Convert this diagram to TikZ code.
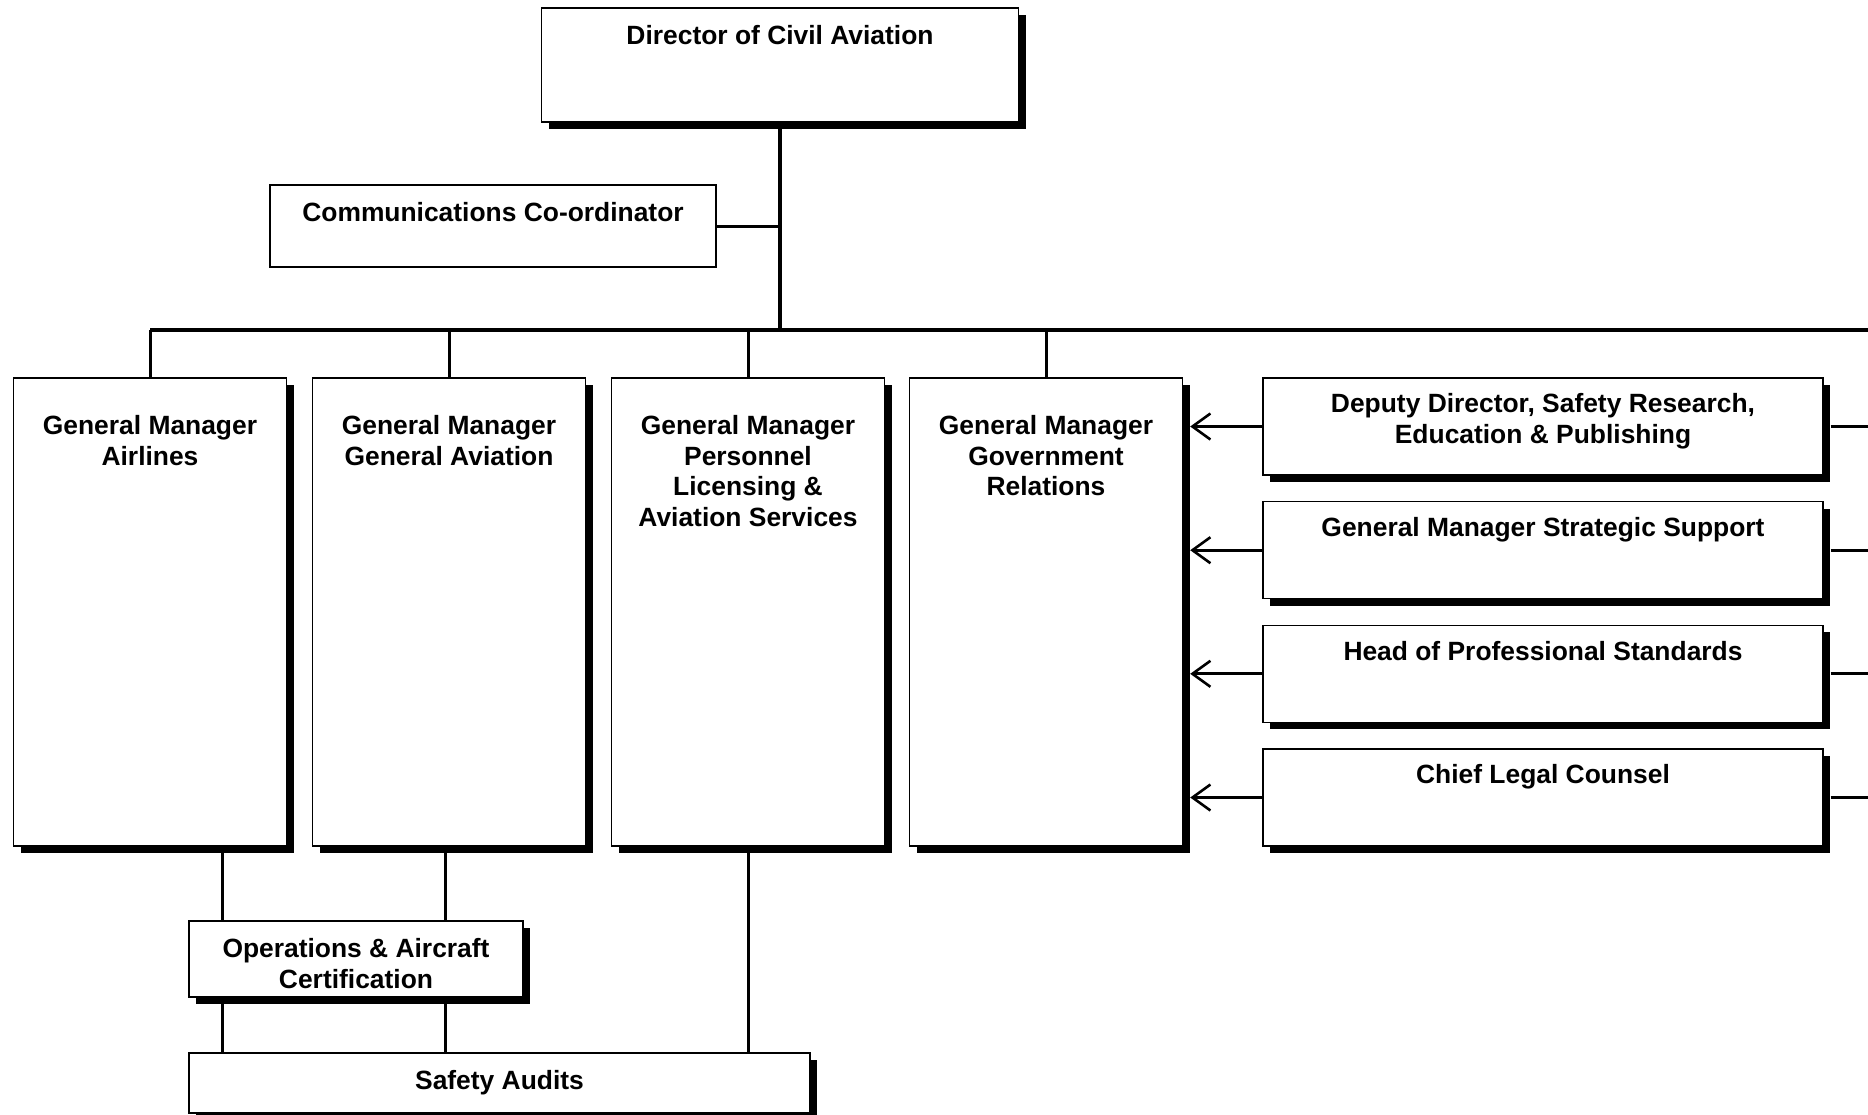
\documentclass[tikz,border=0pt]{standalone}
\usepackage{fontspec}
\setmainfont{Liberation Sans}
\usetikzlibrary{positioning,shadows,arrows.meta}

\tikzset{
  frame/.style={draw=black, line width=0.7pt, fill=white},
  box/.style={frame,
    general shadow={fill=black, shadow xshift=3.5pt, shadow yshift=-3.5pt}},
  txt/.style={font=\bfseries\fontsize{13.2}{15.2}\selectfont, align=center, inner sep=0pt},
  link/.style={line width=1.5pt},
  trunk/.style={line width=2pt},
  barb/.style={-{Straight Barb[length=9pt,width=13pt,line width=1.3pt]}, shorten >=3.5pt}
}

\begin{document}
\begin{tikzpicture}[x=0.5pt, y=-0.5pt]
  \useasboundingbox (0,0) rectangle (1868,1114);

  % Top of the chart
  \node[box, minimum width=238.5pt, minimum height=57pt] (dca) at (780,65) {};
  \node[txt, below=9pt of dca.north] (dcat) {Director of Civil Aviation};
  \node[frame, minimum width=223pt, minimum height=41pt] (comm) at (493,226) {};
  \node[txt, below=8.6pt of comm.north] (commt) {Communications Co-ordinator};

  \coordinate (bus) at (780,330);
  \coordinate (edge) at (1868,330);

  % General managers
  \foreach \n/\x/\t in {air/150/{General Manager\\Airlines},
                        ga/449/{General Manager\\General Aviation},
                        pl/748/{General Manager\\Personnel\\Licensing \&\\Aviation Services},
                        gov/1046/{General Manager\\Government\\Relations}} {
    \node[box, minimum width=136.5pt, minimum height=234pt] (\n) at (\x,612) {};
    \node[txt, below=19pt of \n.north] (\n t) {\t};
  }

  % Staff boxes on the right
  \foreach \n/\y/\t in {dep/426.5/{Deputy Director, Safety Research,\\Education \& Publishing},
                        strat/550.2/{General Manager Strategic Support},
                        prof/673.8/{Head of Professional Standards},
                        legal/797.5/{Chief Legal Counsel}} {
    \node[box, minimum width=280pt, minimum height=48.5pt] (\n) at (1543,\y) {};
    \node[txt, below=8pt of \n.north] (\n t) {\t};
  }

  % Bottom boxes
  \node[box, minimum width=167pt, minimum height=38pt] (ops) at (356,959) {};
  \node[txt, below=9pt of ops.north] (opst) {Operations \& Aircraft\\Certification};
  \node[box, txt, inner sep=2pt, minimum width=310.5pt, minimum height=30pt] (sa) at (499.5,1083)
    {Safety Audits};

  \coordinate (ca) at (222,900);
  \coordinate (cb) at (445.5,900);

  % Lines
  \draw[trunk] (dca.south) -- (bus);
  \draw[link] (comm.east) -- (comm.east -| dca.south);
  \draw[trunk] (air.north |- bus) -- (edge);
  \foreach \n in {air,ga,pl,gov}
    \draw[link] (\n.north) -- (\n.north |- bus);
  \foreach \n in {dep,strat,prof,legal} {
    \draw[link, barb] (\n.west) -- (\n.west -| gov.east);
    \draw[link] ([xshift=3.5pt]\n.east) -- (\n.east -| edge);
  }
  \draw[link] (air.south -| ca) -- (ops.north -| ca);
  \draw[link] (ga.south -| cb) -- (ops.north -| cb);
  \draw[link] (ops.south -| ca) -- (sa.north -| ca);
  \draw[link] (ops.south -| cb) -- (sa.north -| cb);
  \draw[link] (pl.south) -- (pl.south |- sa.north);
\end{tikzpicture}
\end{document}
